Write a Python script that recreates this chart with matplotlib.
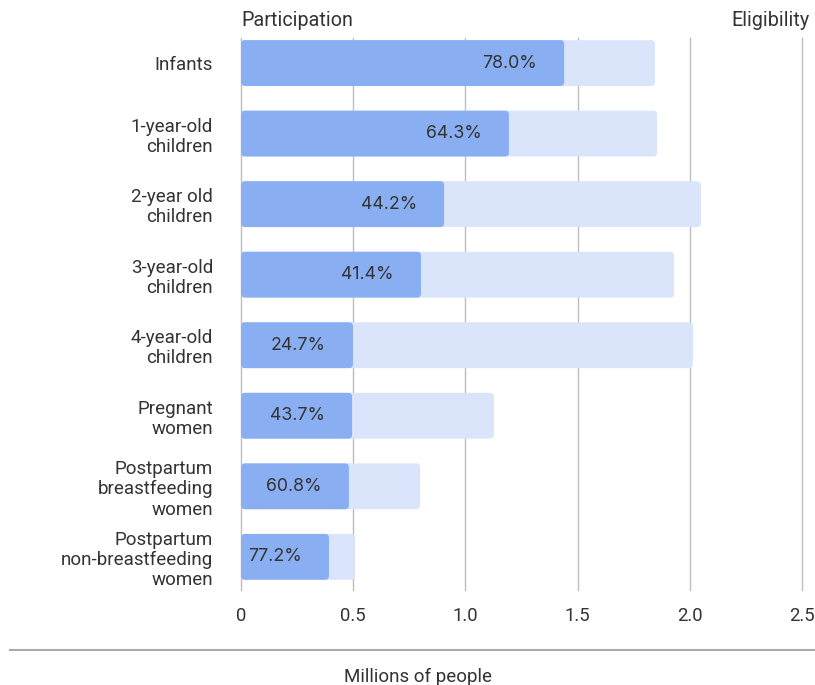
import matplotlib
matplotlib.use("Agg")
import matplotlib.pyplot as plt
from matplotlib import font_manager as fm
from matplotlib.patches import FancyBboxPatch

categories = ["Infants", "1-year-old\nchildren", "2-year old\nchildren", "3-year-old\nchildren",
              "4-year-old\nchildren", "Pregnant\nwomen", "Postpartum\nbreastfeeding\nwomen",
              "Postpartum\nnon-breastfeeding\nwomen"]
participation = [1.44, 1.194, 0.905, 0.802, 0.499, 0.495, 0.481, 0.392]
eligibility = [1.845, 1.854, 2.05, 1.93, 2.014, 1.127, 0.798, 0.508]
pct_labels = ["78.0%", "64.3%", "44.2%", "41.4%", "24.7%", "43.7%", "60.8%", "77.2%"]
xticks = [0, 0.5, 1.0, 1.5, 2.0, 2.5]
xticklabels = ["0", "0.5", "1.0", "1.5", "2.0", "2.5"]

names = {f.name for f in fm.fontManager.ttflist}
narrow = "Roboto" if "Roboto" in names else "Liberation Sans"
num_font = "Inter" if "Inter" in names else "DejaVu Sans"

W, H = 815, 685
fig = plt.figure(figsize=(W / 100, H / 100), dpi=100)
ax = fig.add_axes([241 / W, 1 - 590 / H, (802 - 241) / W, (590 - 38) / H])

c_part = "#89AFF2"
c_elig = "#DAE5FB"
txt = "#333333"
grid = "#BDBDBD"

y = list(range(len(categories)))
ax.set_xlim(0, 2.5)
ax.set_ylim(7.47, -0.355)
b_elig = ax.barh(y, eligibility, height=0.65, color=c_elig, zorder=2)
b_part = ax.barh(y, participation, height=0.65, color=c_part, zorder=3)

# rounded corners: replace rectangles by rounded boxes of identical extent
xr = 4 / 224.4  # ~4 px in x data units
yr = 4 / 70.6   # ~4 px in y data units
for bars, col, z in ((b_elig, c_elig, 2), (b_part, c_part, 3)):
    for r in bars:
        x0, y0, w, h = r.get_x(), r.get_y(), r.get_width(), r.get_height()
        r.set_visible(False)
        p = FancyBboxPatch((x0, y0), w, h, boxstyle=f"round,pad=0,rounding_size={xr}",
                           mutation_aspect=yr / xr, facecolor=col, edgecolor="none", zorder=z)
        ax.add_patch(p)

for yi, p, lab in zip(y, participation, pct_labels):
    ax.annotate(lab, (p, yi), xytext=(-19.5, 0), textcoords="offset points",
                ha="right", va="center", fontsize=12.8, color=txt, family=num_font, zorder=4)

ax.set_xticks(xticks)
ax.set_xticklabels(xticklabels, family=narrow, fontsize=13.3, color=txt)
ax.set_yticks(y)
ax.set_yticklabels(categories, family=narrow, fontsize=13.5, color=txt, linespacing=1.15)
ax.tick_params(axis="both", length=0)
ax.tick_params(axis="x", pad=12)
ax.tick_params(axis="y", pad=20)
for lab in ax.get_yticklabels():
    lab.set_horizontalalignment("right")
for s in ax.spines.values():
    s.set_visible(False)
for xv in xticks:
    ax.axvline(xv, color=grid, lw=1, zorder=1, clip_on=False)

fig.text(241 / W, 1 - 20 / H, "Participation", family=narrow, fontsize=14.2, color=txt,
         ha="left", va="center")
fig.text(810 / W, 1 - 20 / H, "Eligibility", family=narrow, fontsize=14.2, color=txt,
         ha="right", va="center")
fig.add_artist(plt.Line2D([10 / W, 1.0], [1 - 650 / H, 1 - 650 / H], color="#AAAAAA", lw=1.5))
fig.text(418 / W, 1 - 677 / H, "Millions of people", family=narrow, fontsize=13.5, color=txt,
         ha="center", va="center")

fig.savefig("out.png", dpi=100)
